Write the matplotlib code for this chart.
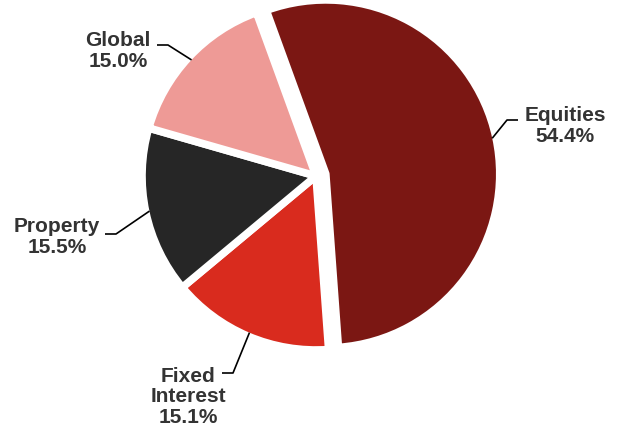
import numpy as np
import matplotlib.pyplot as plt

# Portfolio split, clockwise from the top
labels = ["Equities", "Fixed\nInterest", "Property", "Global"]
shares = [54.4, 15.1, 15.5, 15.0]
colors = ["#7B1713", "#D92B1E", "#262626", "#EE9A96"]
explode = [10, 0, 0, 0]   # pie explode is in data units (pixels here)

# label layout in pixels (from top-left): text centre, leader end x, leader y
LABEL_POS = [
    ((565, 126), 518, 120),
    ((188, 397), 222, 373),
    ((57, 237), 105, 234),
    ((118, 51), 157, 45),
]

W, H = 618, 434
EDGE_PT = 5.5

fig = plt.figure(figsize=(W / 100, H / 100), dpi=100)
ax = fig.add_axes([0, 0, 1, 1])

R = 174
cx, cy = 316, H - 176
wedges, _ = ax.pie(shares, colors=colors, startangle=110, counterclock=False,
                   explode=explode, radius=R, center=(cx, cy), frame=True,
                   wedgeprops=dict(edgecolor="white", linewidth=EDGE_PT,
                                   joinstyle="round"))

ax.set_xlim(0, W)
ax.set_ylim(0, H)
ax.set_aspect("equal")
ax.axis("off")

edge_px = EDGE_PT * 100 / 72
for w, lab, val, ((tx, ty), lx, ly) in zip(wedges, labels, shares, LABEL_POS):
    mid = np.deg2rad((w.theta1 + w.theta2) / 2)
    r = w.r - edge_px / 2
    ax_, ay_ = w.center[0] + r * np.cos(mid), w.center[1] + r * np.sin(mid)
    step = 11 if lx > tx else -11
    ax.plot([lx, lx + step, ax_], [H - ly, H - ly, ay_], color="black",
            lw=1.2, solid_capstyle="butt")
    ax.text(tx, H - ty, f"{lab}\n{val:.1f}%", ha="center", va="center",
            ma="center", fontsize=15, fontweight="bold", color="#333333",
            family="Liberation Sans", linespacing=1.1)

fig.savefig("out.png", dpi=100)
